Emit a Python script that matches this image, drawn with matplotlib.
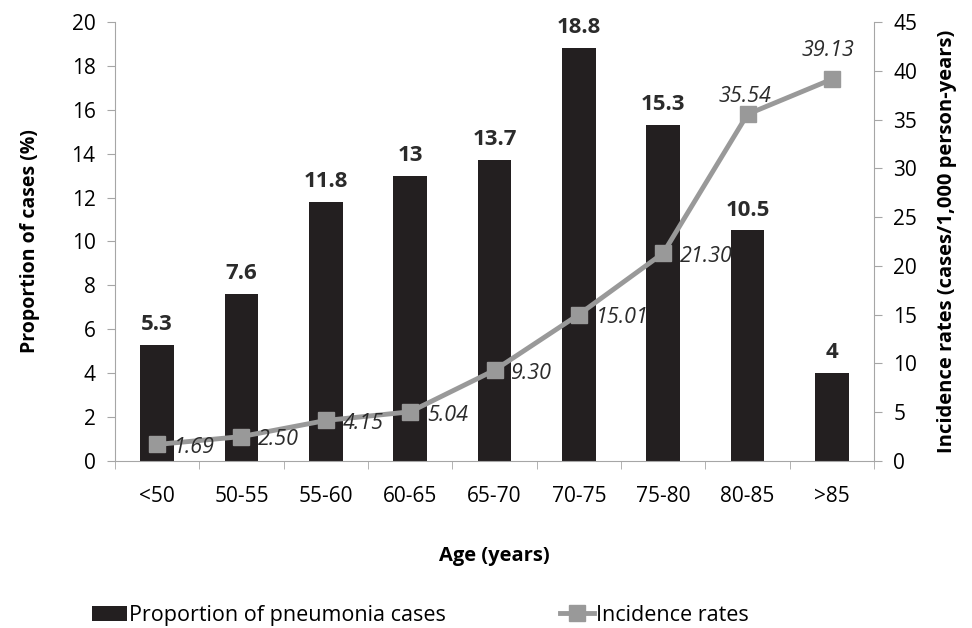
import matplotlib
matplotlib.use("Agg")
import matplotlib.pyplot as plt
from matplotlib.lines import Line2D
from matplotlib.patches import Patch
import numpy as np

plt.rcParams['font.family'] = ['Open Sans', 'DejaVu Sans']

ages = ["<50", "50-55", "55-60", "60-65", "65-70", "70-75", "75-80", "80-85", ">85"]
proportion = [5.3, 7.6, 11.8, 13, 13.7, 18.8, 15.3, 10.5, 4]
proportion_labels = ["5.3", "7.6", "11.8", "13", "13.7", "18.8", "15.3", "10.5", "4"]
incidence = [1.69, 2.50, 4.15, 5.04, 9.30, 15.01, 21.30, 35.54, 39.13]

bar_color = "#231f20"
line_color = "#999999"
axis_color = "#a6a6a6"
label_color = "#2b2b2b"

fig = plt.figure(figsize=(9.72, 6.28), dpi=100)
ax = fig.add_axes([0.1183, 0.266, 0.7809, 0.699])
ax2 = ax.twinx()

x = np.arange(len(ages))
ax.bar(x, proportion, width=0.4, color=bar_color, zorder=2)
ax.set_xlim(-0.5, len(ages) - 0.5)
ax.set_ylim(0, 20)
ax.set_yticks(np.arange(0, 21, 2))
ax.set_xticks(x)
ax.set_xticklabels(ages)
ax.set_xticks(np.arange(-0.5, len(ages), 1), minor=True)
ax.tick_params(axis='x', which='major', length=0, pad=18, labelsize=15)
ax.tick_params(axis='x', which='minor', length=6, color=axis_color, direction='out')
ax.tick_params(axis='y', length=6, color=axis_color, direction='out', labelsize=15, pad=8)

for xi, v, lab in zip(x, proportion, proportion_labels):
    ax.text(xi, v + 0.45, lab, ha='center', va='bottom', fontsize=16, fontweight='bold',
            color=label_color)

ax2.plot(x, incidence, color=line_color, lw=3.5, marker='s', markersize=11, zorder=3)
ax2.set_ylim(0, 45)
ax2.set_yticks(np.arange(0, 46, 5))
ax2.tick_params(axis='y', length=6, color=axis_color, direction='out', labelsize=15, pad=8)

# rate labels: right of the marker for the lower points, above it for the last two
for xi, v in zip(x[:7], incidence[:7]):
    ax2.text(xi + 0.2, v - 0.35, f"{v:.2f}", ha='left', va='center', fontsize=15.5,
             style='italic', color=label_color, zorder=4)
ax2.text(x[7] - 0.03, incidence[7] + 1.8, f"{incidence[7]:.2f}", ha='center', va='center',
         fontsize=15.5, style='italic', color=label_color)
ax2.text(x[8] - 0.05, incidence[8] + 2.9, f"{incidence[8]:.2f}", ha='center', va='center',
         fontsize=15.5, style='italic', color=label_color)

for a in (ax, ax2):
    a.spines['top'].set_visible(False)
    for s in ('left', 'right', 'bottom'):
        a.spines[s].set_color(axis_color)
ax.spines['right'].set_visible(False)
ax2.spines['left'].set_visible(False)
ax2.spines['bottom'].set_visible(False)

ax.set_ylabel("Proportion of cases (%)", fontsize=14, fontweight='bold')
ax.yaxis.set_label_coords(-0.099, 0.5)
ax2.set_ylabel("Incidence rates (cases/1,000 person-years)", fontsize=14.5, fontweight='bold')
ax2.yaxis.set_label_coords(1.083, 0.5)
ax.set_xlabel("Age (years)", fontsize=14.5, fontweight='bold', labelpad=28)

handles = [Patch(facecolor=bar_color, label="Proportion of pneumonia cases"),
           Line2D([0], [0], color=line_color, lw=3.5, marker='s', markersize=11, label="Incidence rates")]
fig.legend(handles=handles, loc='center left', bbox_to_anchor=(0.075, 0.02), ncol=2, frameon=False,
           fontsize=15.5, columnspacing=5.3, handlelength=1.6, handletextpad=0.1)

fig.savefig("out.png", dpi=100)
